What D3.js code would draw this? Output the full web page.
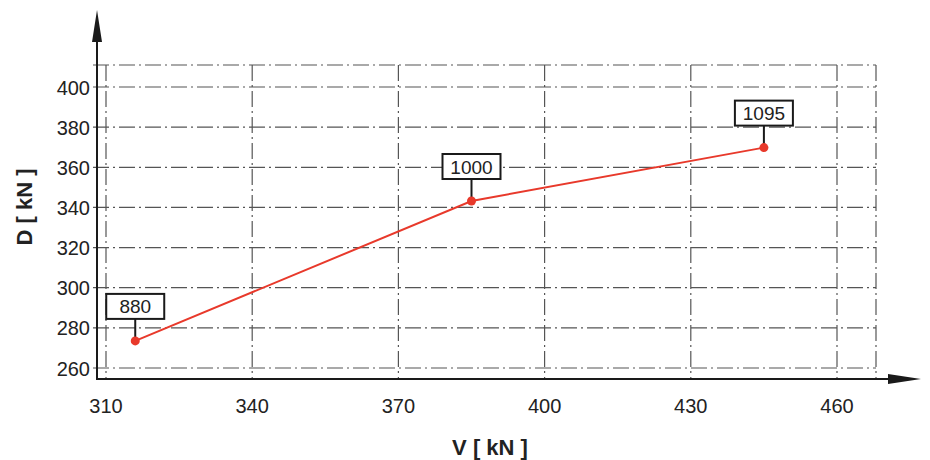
<!DOCTYPE html>
<html><head><meta charset="utf-8">
<script src="https://cdn.jsdelivr.net/npm/d3@7"></script>
<style>body{margin:0;background:#fff}svg{display:block;font-family:"Liberation Sans",Arial,sans-serif}</style>
</head><body>
<script>
const vValues = [316, 385, 445];
const dValues = [273.5, 343.2, 369.8];
const pointLabels = ["880", "1000", "1095"];
const xTicks = [310, 340, 370, 400, 430, 460];
const yTicks = [260, 280, 300, 320, 340, 360, 380, 400];

const W = 930, H = 460;
const svg = d3.select("body").append("svg").attr("width", W).attr("height", H);
const x = d3.scaleLinear().domain([310, 460]).range([106, 837]);
const y = d3.scaleLinear().domain([260, 400]).range([368, 87]);
const axX = 97, axY = 379, gridRight = 876, gridTop = 65;
const gridColor = "#555", dash = "16,4,2,4";

const g = svg.append("g");
g.selectAll("line.vg").data(xTicks).join("line")
  .attr("x1", d => x(d)).attr("x2", d => x(d)).attr("y1", gridTop).attr("y2", axY)
  .attr("stroke", gridColor).attr("stroke-width", 1.2).attr("stroke-dasharray", dash);
g.selectAll("line.hg").data(yTicks).join("line")
  .attr("x1", axX - 4).attr("x2", gridRight).attr("y1", d => y(d)).attr("y2", d => y(d))
  .attr("stroke", gridColor).attr("stroke-width", 1.2).attr("stroke-dasharray", dash);
g.append("line").attr("x1", axX - 4).attr("x2", gridRight).attr("y1", gridTop).attr("y2", gridTop)
  .attr("stroke", gridColor).attr("stroke-width", 1.2).attr("stroke-dasharray", dash);
g.append("line").attr("x1", gridRight).attr("x2", gridRight).attr("y1", gridTop).attr("y2", axY)
  .attr("stroke", gridColor).attr("stroke-width", 1.2).attr("stroke-dasharray", dash);

svg.append("line").attr("x1", axX).attr("x2", axX).attr("y1", 40).attr("y2", axY + 1)
  .attr("stroke", "#1a1a1a").attr("stroke-width", 2);
svg.append("line").attr("x1", axX - 1).attr("x2", 892).attr("y1", axY).attr("y2", axY)
  .attr("stroke", "#1a1a1a").attr("stroke-width", 2);
svg.append("path").attr("d", `M${axX},10 L${axX-5},42 L${axX+5},42 Z`).attr("fill", "#1a1a1a");
svg.append("path").attr("d", `M921,${axY} L888,${axY-5} L888,${axY+5} Z`).attr("fill", "#1a1a1a");

svg.selectAll("text.xt").data(xTicks).join("text")
  .attr("x", d => x(d)).attr("y", 413).attr("text-anchor", "middle")
  .attr("font-size", 20).attr("fill", "#222").text(d => d);
svg.selectAll("text.yt").data(yTicks).join("text")
  .attr("x", 90).attr("y", d => y(d) + 7.5).attr("text-anchor", "end")
  .attr("font-size", 20).attr("fill", "#222").text(d => d);

svg.append("text").attr("x", 490).attr("y", 455).attr("text-anchor", "middle")
  .attr("font-size", 22).attr("font-weight", "bold").attr("fill", "#222").text("V [ kN ]");
svg.append("text").attr("transform", "translate(32,207) rotate(-90)").attr("text-anchor", "middle")
  .attr("font-size", 22).attr("font-weight", "bold").attr("fill", "#222").text("D [ kN ]");

const pts = vValues.map((v, i) => [x(v), y(dValues[i])]);
svg.append("path").attr("d", d3.line()(pts)).attr("fill", "none")
  .attr("stroke", "#e8392b").attr("stroke-width", 2);

pts.forEach((p, i) => {
  const bw = 58, bh = 25, by = p[1] - 47;
  svg.append("line").attr("x1", p[0]).attr("x2", p[0]).attr("y1", by + bh).attr("y2", p[1])
    .attr("stroke", "#1a1a1a").attr("stroke-width", 2);
  svg.append("rect").attr("x", p[0] - bw / 2).attr("y", by).attr("width", bw).attr("height", bh)
    .attr("fill", "#fff").attr("stroke", "#1a1a1a").attr("stroke-width", 2);
  svg.append("text").attr("x", p[0]).attr("y", by + bh / 2 + 7).attr("text-anchor", "middle")
    .attr("font-size", 19).attr("fill", "#222").text(pointLabels[i]);
});
svg.selectAll("circle.pt").data(pts).join("circle")
  .attr("cx", d => d[0]).attr("cy", d => d[1]).attr("r", 4.5).attr("fill", "#e8392b");
</script>
</body></html>
